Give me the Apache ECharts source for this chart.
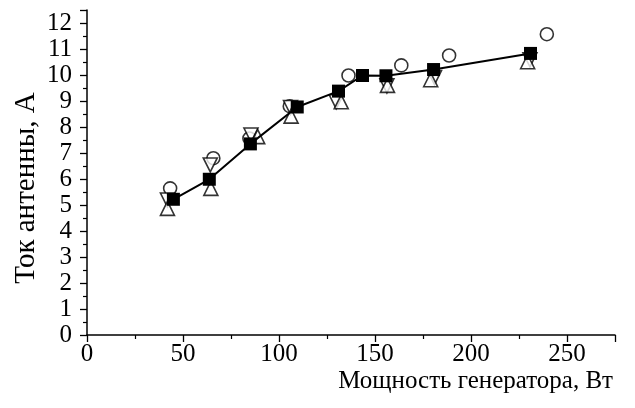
<!DOCTYPE html>
<html>
<head>
<meta charset="utf-8">
<script src="https://cdn.jsdelivr.net/npm/echarts@6/dist/echarts.min.js"></script>
<style>html,body{margin:0;padding:0;background:#fff}#c{width:635px;height:408px}</style>
</head>
<body>
<div id="c"></div>
<script>
var xTitle = 'Мощность генератора, Вт';
var yTitle = 'Ток антенны, А';
var squares = [[45,5.22],[63.7,5.99],[85.1,7.35],[109.5,8.77],[131,9.38],[143.5,9.98],[155.7,9.97],[180.5,10.21],[231,10.83]];
var circles = [[43.3,5.64],[84.6,7.56],[65.8,6.8],[105.6,8.8],[136.2,9.98],[163.7,10.37],[188.6,10.75],[239.5,11.57]];
var downTri = [[41.9,5.19],[64.2,6.54],[85.4,7.69],[106,8.75],[129.8,8.97],[156.2,9.58],[181,9.9],[230.7,10.58]];
var upTri = [[41.9,4.87],[64.5,5.64],[88.9,7.63],[106.3,8.42],[132.4,8.97],[156.5,9.6],[179,9.82],[229.5,10.51]];
var xTickLabels = ['0','50','100','150','200','250'];
var xMin = 0, xMax = 275, xStep = 50;
var yMin = 0, yMax = 12.5, yStep = 1;

var font = 'Liberation Serif, Times New Roman, serif';
var chart = echarts.init(document.getElementById('c'), null, {renderer:'canvas'});
var openStyle = {color:'#fff', borderColor:'#000', borderWidth:1.6};
chart.setOption({
  animation:false,
  backgroundColor:'#fff',
  grid:{left:87, right:20, top:10, bottom:73, containLabel:false},
  xAxis:{
    type:'value', min:xMin, max:xMax, interval:xStep,
    axisLine:{onZero:false, lineStyle:{color:'#000', width:1.5}},
    axisTick:{show:true, length:7, lineStyle:{color:'#000', width:1.3}},
    minorTick:{show:true, splitNumber:2, length:4, lineStyle:{color:'#000', width:1.2}},
    splitLine:{show:false},
    axisLabel:{color:'#000', fontFamily:font, fontSize:25, margin:7,
      formatter:function(v){ var s = String(v); return xTickLabels.indexOf(s) >= 0 ? s : ''; }}
  },
  yAxis:{
    type:'value', min:yMin, max:yMax, interval:yStep,
    axisLine:{onZero:false, lineStyle:{color:'#000', width:1.5}},
    axisTick:{show:true, length:7, lineStyle:{color:'#000', width:1.3}},
    minorTick:{show:true, splitNumber:2, length:4, lineStyle:{color:'#000', width:1.2}},
    splitLine:{show:false},
    axisLabel:{color:'#000', fontFamily:font, fontSize:25, margin:15}
  },
  graphic:[
    {type:'text', right:22, top:369, style:{text:xTitle, fill:'#000', font:'25px '+font, textAlign:'right'}},
    {type:'text', x:12, y:188, rotation:Math.PI/2, style:{text:yTitle, fill:'#000', font:'29px '+font, textAlign:'center', textVerticalAlign:'top'}}
  ],
  series:[
    {type:'scatter', data:circles, symbol:'circle', symbolSize:13, itemStyle:openStyle, z:2},
    {type:'scatter', data:downTri, symbol:'triangle', symbolRotate:180, symbolSize:14, itemStyle:openStyle, z:3},
    {type:'scatter', data:upTri, symbol:'triangle', symbolSize:14, itemStyle:openStyle, z:3},
    {type:'line', data:squares, symbol:'rect', symbolSize:13, showSymbol:true, lineStyle:{color:'#000', width:2}, itemStyle:{color:'#000', borderWidth:0}, z:4}
  ]
});
</script>
</body>
</html>
